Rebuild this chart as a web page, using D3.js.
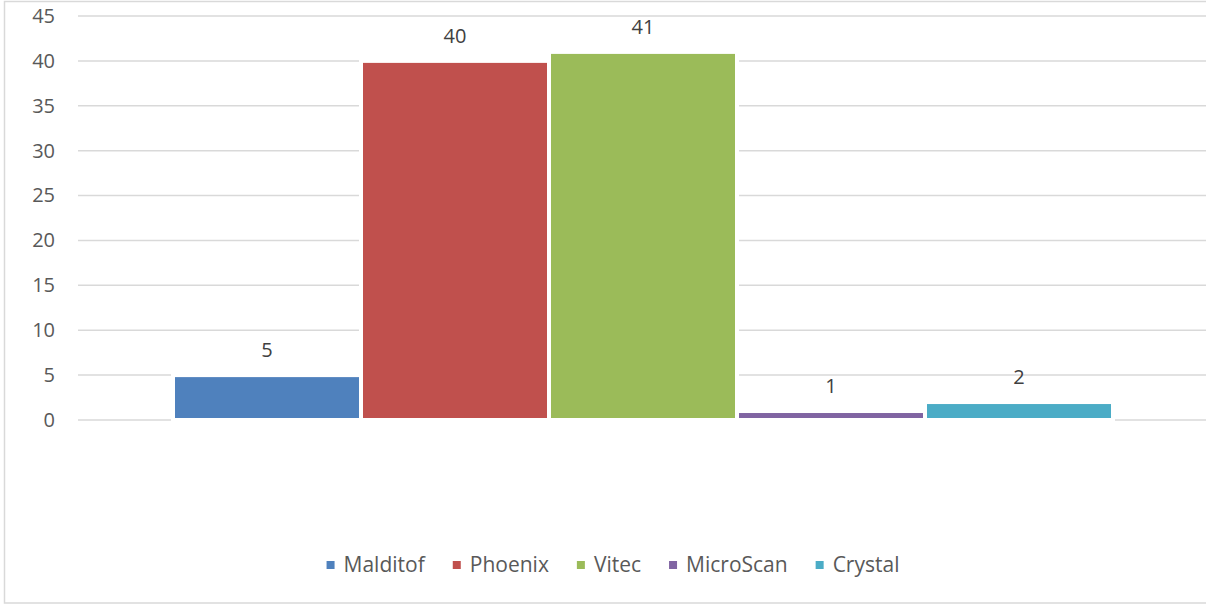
<!DOCTYPE html>
<html><head><meta charset="utf-8">
<script src="https://cdn.jsdelivr.net/npm/d3@7"></script>
<style>body{margin:0;background:#fff;}svg{display:block;}</style>
</head><body>
<script>
const series = ["Malditof","Phoenix","Vitec","MicroScan","Crystal"];
const values = [5,40,41,1,2];
const colors = ["#4F81BD","#C0504D","#9BBB59","#8064A2","#4BACC6"];
const yTicks = [0,5,10,15,20,25,30,35,40,45];

const W=1206,H=607;
const svg=d3.select("body").append("svg").attr("width",W).attr("height",H);
svg.append("rect").attr("x",4.5).attr("y",1.5).attr("width",W+10).attr("height",601.5)
  .attr("fill","#fff").attr("stroke","#d9d9d9").attr("stroke-width",1.5);

const plotL=78, plotR=1208, plotT=16, plotB=420;
const y=d3.scaleLinear().domain([0,45]).range([plotB,plotT]);
const sideGap=95;
const x=d3.scaleBand().domain(series).range([plotL+sideGap,plotR-sideGap]).padding(0);

const font="'Open Sans', sans-serif";
svg.append("g").selectAll("line").data(yTicks).join("line")
  .attr("x1",plotL).attr("x2",plotR).attr("y1",d=>y(d)).attr("y2",d=>y(d))
  .attr("stroke","#d9d9d9").attr("stroke-width",1.5);
const yAxis=d3.axisLeft(y).tickValues(yTicks).tickSize(0).tickPadding(0);
const ga=svg.append("g").attr("transform","translate(55,0)").call(yAxis);
ga.select(".domain").remove();
ga.selectAll("text").attr("font-family",font).attr("font-size",20).attr("fill","#595959");

svg.append("g").selectAll("rect").data(series).join("rect")
  .attr("x",d=>x(d)).attr("width",x.bandwidth())
  .attr("y",(d,i)=>y(values[i])).attr("height",(d,i)=>y(0)-y(values[i]))
  .attr("fill",(d,i)=>colors[i]).attr("stroke","#fff").attr("stroke-width",4);

svg.append("g").selectAll("text").data(series).join("text")
  .attr("x",d=>x(d)+x.bandwidth()/2).attr("y",(d,i)=>y(values[i])-18)
  .attr("text-anchor","middle").attr("font-family",font).attr("font-size",20).attr("fill","#404040")
  .text((d,i)=>values[i]);

const lg=svg.append("g");
const items=lg.selectAll("g").data(series).join("g");
items.append("rect").attr("width",8).attr("height",8).attr("y",-4).attr("fill",(d,i)=>colors[i]);
items.append("text").attr("x",17).attr("dy","0.35em").attr("font-family",font).attr("font-size",21)
  .attr("fill","#595959").text(d=>d);
let pos=0;const offs=[];const gap=28;
items.each(function(){offs.push(pos);const w=d3.select(this).select("text").node().getComputedTextLength();pos+=17+w+gap;});
const total=pos-gap;
const start=613-total/2;
items.attr("transform",(d,i)=>`translate(${start+offs[i]},565)`);
</script>
</body></html>
